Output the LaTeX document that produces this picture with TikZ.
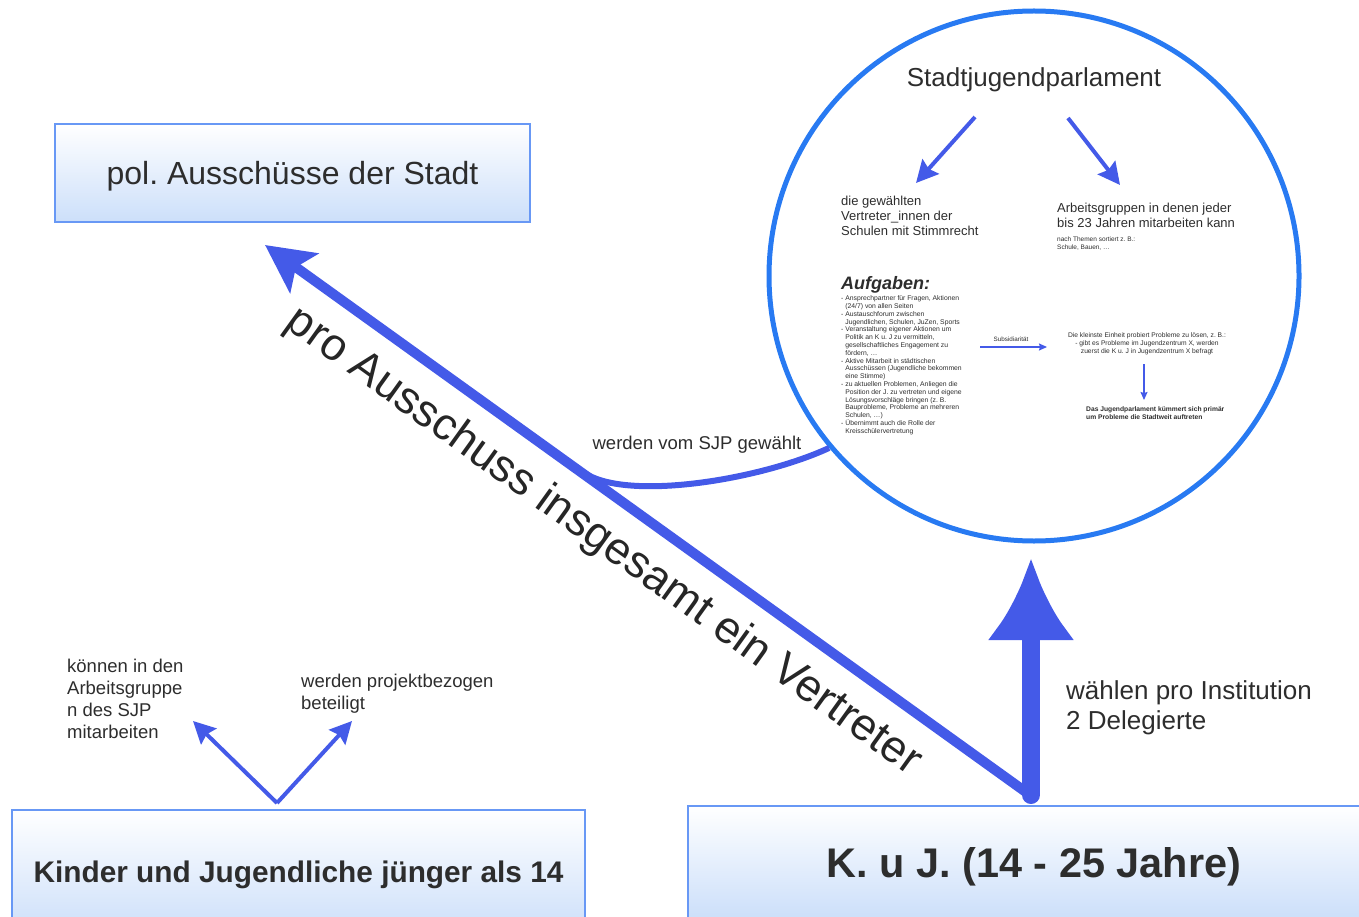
\documentclass[tikz,border=0pt]{standalone}
\usepackage{fontspec}
\setmainfont{Liberation Sans}
\usetikzlibrary{arrows.meta}
\definecolor{arrowblue}{RGB}{68,90,232}
\definecolor{ringblue}{RGB}{40,122,242}
\definecolor{boxline}{RGB}{104,152,245}
\definecolor{boxfill}{RGB}{204,223,250}
\definecolor{txt}{RGB}{45,45,45}
\newcommand{\fs}[2]{\fontsize{#1}{#2}\selectfont}
\newcommand{\ind}{\hspace*{.611em}}
\frenchspacing
\begin{document}
\begin{tikzpicture}[x=1pt,y=-1pt,
  box/.style={draw=boxline, line width=2pt, top color=white, bottom color=boxfill, text=txt, inner sep=0pt, text depth=0pt},
  lbl/.style={text=txt, inner sep=0pt},
  lblnw/.style={text=txt, inner sep=0pt, anchor=north west, align=left},
  midarrow/.style={draw=arrowblue, line width=4pt, -{Stealth[length=22pt,width=22pt,inset=3pt]}},
  thinarrow/.style={draw=arrowblue, line width=1.4pt, -{Stealth[length=8pt,width=7pt,inset=1pt]}}
]
\useasboundingbox (0,0) rectangle (1359,917);

% boxes
\node[box, minimum width=475pt, minimum height=98pt, font=\fs{32}{38}] (pol) at (292.5,173) {pol. Ausschüsse der Stadt};
\node[box, minimum width=573pt, minimum height=124pt, font=\bfseries\fs{29.8}{34}] (kinder) at (298.5,872) {Kinder und Jugendliche jünger als 14};
\node[box, minimum width=692pt, minimum height=112pt, font=\bfseries\fs{41.4}{46}] (kuj) at (1034,862) {K. u J. (14 - 25 Jahre)};

% circle
\node[circle, draw=ringblue, line width=5pt, minimum size=530pt, inner sep=0pt] (sjp) at (1034,276) {};
\node[lbl, font=\fs{26}{30}] (title) at (1034,80) {Stadtjugendparlament};

\node[lblnw, font=\fs{13}{15}] (vertr) at (841,196) {die gewählten\\Vertreter\_innen der\\Schulen mit Stimmrecht};
\node[lblnw, font=\fs{13}{15}] (ag) at (1057,203) {Arbeitsgruppen in denen jeder\\bis 23 Jahren mitarbeiten kann};
\node[lblnw, font=\fs{6.5}{8}] (agsub) at (1057,236.5) {nach Themen sortiert z. B.:\\Schule, Bauen, \dots};

\coordinate (t1s) at (975,117);
\coordinate (t1e) at (916,183);
\coordinate (t2s) at (1068,118);
\coordinate (t2e) at (1120,185);
\draw[midarrow] (t1s) -- (t1e);
\draw[midarrow] (t2s) -- (t2e);

\node[lblnw, font=\bfseries\itshape\fs{18}{21}] (aufg) at (841,276.5) {Aufgaben:};
\node[lblnw, font=\fs{6.8}{7.8}] (list) at (841,295.5) {%
- Ansprechpartner für Fragen, Aktionen\\
\ind(24/7) von allen Seiten\\
- Austauschforum zwischen\\
\ind Jugendlichen, Schulen, JuZen, Sports\\
- Veranstaltung eigener Aktionen um\\
\ind Politik an K u. J zu vermitteln,\\
\ind gesellschaftliches Engagement zu\\
\ind fördern, \dots\\
- Aktive Mitarbeit in städtischen\\
\ind Ausschüssen (Jugendliche bekommen\\
\ind eine Stimme)\\
- zu aktuellen Problemen, Anliegen die\\
\ind Position der J. zu vertreten und eigene\\
\ind Lösungsvorschläge bringen (z. B.\\
\ind Bauprobleme, Probleme an mehreren\\
\ind Schulen, \dots)\\
- Übernimmt auch die Rolle der\\
\ind Kreisschülervertretung};

\node[lbl, font=\fs{6.3}{8}] (subs) at (1011,339) {Subsidiarität};
\coordinate (s1) at (980,347);
\coordinate (s2) at (1047,347);
\draw[thinarrow] (s1) -- (s2);
\node[lbl, font=\fs{6.7}{8}, align=center] (einheit) at (1147,344) {Die kleinste Einheit probiert Probleme zu lösen, z. B.:\\- gibt es Probleme im Jugendzentrum X, werden\\zuerst die K u. J in Jugendzentrum X befragt};
\coordinate (d1) at (1144,364);
\coordinate (d2) at (1144,400);
\draw[thinarrow] (d1) -- (d2);
\node[lblnw, font=\bfseries\fs{6.7}{8}] (primaer) at (1086,406.5) {Das Jugendparlament kümmert sich primär\\um Probleme die Stadtweit auftreten};

% big diagonal arrow
\coordinate (kujtop) at (1030,795);
\coordinate (poltip) at (265,245);
\draw[draw=arrowblue, line width=10pt, line cap=round, -{Stealth[length=48pt,width=48pt,inset=10pt]}] (kujtop) -- (poltip);
\node[lbl, text=black!85, font=\fs{45}{50}, rotate=-35.7] (pro) at (603.5,542) {pro Ausschuss insgesamt ein Vertreter};

% curve
\coordinate (cj) at (583,472);
\draw[draw=arrowblue, line width=6pt] (sjp.220) .. controls (760,480) and (625,502) .. (cj);
\node[lbl, font=\fs{18.5}{22}] (gew) at (697,445) {werden vom SJP gewählt};

% vertical arrow
\coordinate (vbot) at (1031,795);
\coordinate (vtip) at (1031,558);
\draw[draw=arrowblue, line width=18pt, line cap=round, -{Latex[length=82pt,width=88pt]}] (vbot) -- (vtip);
\node[lblnw, font=\fs{26}{30}] (waehlen) at (1066,680.5) {wählen pro Institution\\2 Delegierte};

% V arrows
\coordinate (vtx) at (277,803);
\coordinate (vl) at (193,721);
\coordinate (vr) at (352,721);
\draw[midarrow] (vtx) -- (vl);
\draw[midarrow] (vtx) -- (vr);
\node[lblnw, font=\fs{18.5}{21.7}] (koennen) at (67,659.3) {können in den\\Arbeitsgruppe\\n des SJP\\mitarbeiten};
\node[lblnw, font=\fs{18.5}{22}] (projekt) at (301,674.3) {werden projektbezogen\\beteiligt};
\end{tikzpicture}
\end{document}
